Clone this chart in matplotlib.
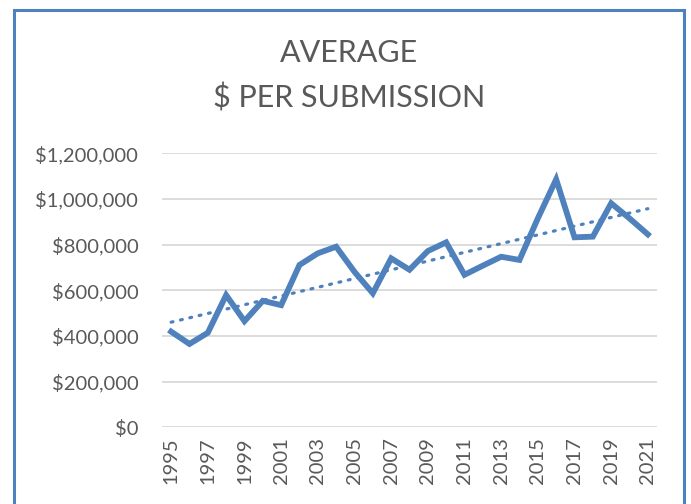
import matplotlib as mpl
import matplotlib.pyplot as plt
import matplotlib.ticker as mticker
import numpy as np

years = list(range(1995, 2022))
avg_per_submission = [419000, 365000, 414000, 579000, 465000, 554000, 535000,
                      711000, 762000, 791000, 681000, 587000, 740000, 690000,
                      772000, 810000, 668000, 708000, 747000, 733000, 915000,
                      1086000, 832000, 835000, 981000, 915000, 845000]
tick_years = years[::2]

dpi = 100
fig = plt.figure(dpi=dpi, figsize=(691 / dpi, 504 / dpi))
mpl.rcParams.update({'font.family': ['Lato', 'DejaVu Sans']})

ax = fig.add_axes([0.2344, 0.1522, 0.7164, 0.5436])

xs = np.arange(len(years))
ax.plot(xs, avg_per_submission, color='#4F81BD', linewidth=4.2,
        solid_joinstyle='miter', zorder=3)

# linear trendline
k, b = np.polyfit(xs, avg_per_submission, 1)
ax.plot(xs, k * xs + b, color='#4F81BD', linewidth=2.3,
        linestyle=(0, (0.6, 2.4)), dash_capstyle='round', zorder=2)

ax.set_xlim(-0.5, len(years) - 0.5)
ax.set_ylim(0, 1200000)
ax.set_yticks(range(0, 1200001, 200000))
ax.yaxis.set_major_formatter(mticker.FuncFormatter(lambda v, p: '${:,.0f}'.format(v)))
ax.set_xticks([years.index(y) for y in tick_years])
ax.set_xticklabels([str(y) for y in tick_years], rotation=90)

ax.yaxis.grid(True, color='#D9D9D9', linewidth=1.3, zorder=0)
for s in ax.spines.values():
    s.set_visible(False)
ax.tick_params(length=0, labelsize=14.5, colors='#595959')
ax.tick_params(axis='y', pad=17)
ax.tick_params(axis='x', pad=7)

fig.text(0.505, 0.895, 'AVERAGE', ha='center', va='center',
         fontsize=22, color='#595959')
fig.text(0.505, 0.805, '$ PER SUBMISSION', ha='center', va='center',
         fontsize=22, color='#595959')

border = mpl.patches.Rectangle((14 / 691, -0.1), 670 / 691, 1.1 - 10 / 504,
                               transform=fig.transFigure, fill=False,
                               edgecolor='#4F81BD', linewidth=2.2)
fig.patches.append(border)

fig.savefig('out.png')
